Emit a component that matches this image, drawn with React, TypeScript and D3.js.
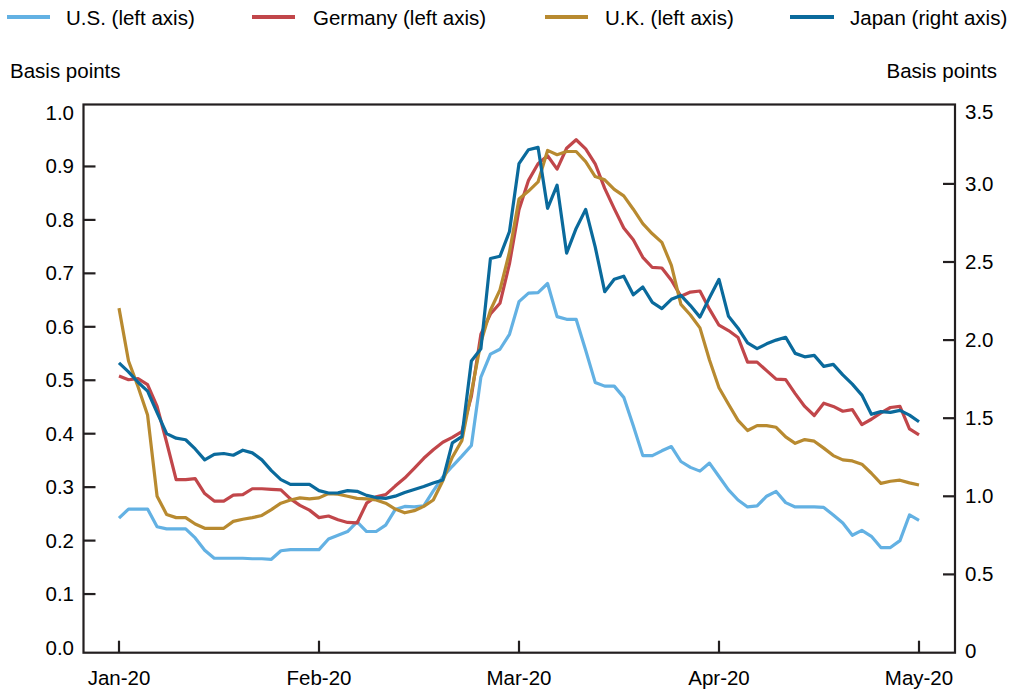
import React from "react";
import * as d3 from "d3";

const TICK_LABELS = ["Jan-20", "Feb-20", "Mar-20", "Apr-20", "May-20"];
const TICK_INDEX = [0, 21, 42, 63, 84];
const LEFT_TICKS = [0.1, 0.2, 0.3, 0.4, 0.5, 0.6, 0.7, 0.8, 0.9];
const LEFT_LABELS = [0, 0.1, 0.2, 0.3, 0.4, 0.5, 0.6, 0.7, 0.8, 0.9, 1.0];
const RIGHT_TICKS = [0.5, 1.0, 1.5, 2.0, 2.5, 3.0];
const RIGHT_LABELS = [0, 0.5, 1.0, 1.5, 2.0, 2.5, 3.0, 3.5];

const US = [
  0.242, 0.259, 0.259, 0.259, 0.226, 0.222, 0.222, 0.222, 0.205, 0.182,
  0.167, 0.167, 0.167, 0.167, 0.166, 0.166, 0.165, 0.181, 0.183, 0.183,
  0.183, 0.183, 0.203, 0.21, 0.217, 0.235, 0.217, 0.217, 0.229, 0.258,
  0.264, 0.263, 0.265, 0.293, 0.319, 0.339, 0.358, 0.378, 0.506, 0.549,
  0.558, 0.586, 0.647, 0.663, 0.664, 0.681, 0.619, 0.614, 0.614, 0.556,
  0.496, 0.489, 0.489, 0.468, 0.415, 0.359, 0.359, 0.368, 0.376, 0.348,
  0.337, 0.33, 0.345, 0.32, 0.295, 0.276, 0.263, 0.265, 0.283, 0.292,
  0.271, 0.263, 0.263, 0.263, 0.262, 0.248, 0.233, 0.21, 0.219, 0.208,
  0.187, 0.187, 0.2, 0.248, 0.238,
];

const GERMANY = [
  0.508, 0.501, 0.503, 0.492, 0.451, 0.384, 0.314, 0.314, 0.316, 0.288,
  0.274, 0.274, 0.285, 0.286, 0.297, 0.297, 0.296, 0.295, 0.278, 0.266,
  0.257, 0.243, 0.246, 0.239, 0.234, 0.233, 0.27, 0.282, 0.286, 0.302,
  0.317, 0.335, 0.354, 0.37, 0.384, 0.393, 0.404, 0.47, 0.586, 0.624,
  0.644, 0.718, 0.819, 0.874, 0.905, 0.92, 0.895, 0.934, 0.95, 0.933,
  0.905, 0.859, 0.821, 0.785, 0.763, 0.73, 0.711, 0.71, 0.687, 0.657,
  0.665, 0.667, 0.633, 0.603, 0.593, 0.58, 0.534, 0.534, 0.518, 0.502,
  0.501, 0.475, 0.451, 0.434, 0.457, 0.451, 0.442, 0.445, 0.417, 0.427,
  0.439, 0.449, 0.451, 0.409, 0.398,
];

const UK = [
  0.635, 0.536, 0.488, 0.435, 0.283, 0.249, 0.243, 0.243, 0.231, 0.223,
  0.223, 0.223, 0.236, 0.24, 0.243, 0.247, 0.258, 0.27, 0.276, 0.28,
  0.278, 0.28, 0.288, 0.287, 0.283, 0.279, 0.278, 0.276, 0.27, 0.259,
  0.252, 0.256, 0.264, 0.276, 0.312, 0.356, 0.387, 0.477, 0.571, 0.631,
  0.669, 0.74, 0.839, 0.854, 0.871, 0.93, 0.922, 0.928, 0.928, 0.909,
  0.881, 0.875, 0.857, 0.845, 0.82, 0.793, 0.774, 0.758, 0.715, 0.642,
  0.622, 0.598, 0.538, 0.486, 0.455, 0.425, 0.406, 0.415, 0.415, 0.412,
  0.394, 0.382, 0.389, 0.386, 0.373, 0.359, 0.351, 0.349, 0.343, 0.326,
  0.307, 0.311, 0.313, 0.308, 0.304,
];

const JAPAN = [
  1.854, 1.797, 1.73, 1.673, 1.536, 1.401, 1.372, 1.362, 1.303, 1.233,
  1.268, 1.274, 1.263, 1.295, 1.278, 1.233, 1.164, 1.107, 1.076, 1.076,
  1.076, 1.036, 1.021, 1.022, 1.036, 1.032, 1.006, 0.992, 0.987, 1.001,
  1.024, 1.044, 1.063, 1.085, 1.105, 1.342, 1.382, 1.866, 1.945, 2.522,
  2.537, 2.695, 3.13, 3.219, 3.234, 2.844, 2.992, 2.557, 2.715, 2.837,
  2.597, 2.31, 2.389, 2.409, 2.29, 2.34, 2.241, 2.202, 2.261, 2.286,
  2.221, 2.147, 2.271, 2.389, 2.152, 2.076, 1.982, 1.945, 1.976, 2.0,
  2.018, 1.915, 1.893, 1.902, 1.832, 1.845, 1.777, 1.718, 1.648, 1.525,
  1.542, 1.537, 1.55, 1.52, 1.477,
];

const SERIES = [
  { name: "U.S. (left axis)", values: US, color: "#63B1E3", axis: "left" },
  { name: "Germany (left axis)", values: GERMANY, color: "#C1464A", axis: "left" },
  { name: "U.K. (left axis)", values: UK, color: "#B88A30", axis: "left" },
  { name: "Japan (right axis)", values: JAPAN, color: "#0A6A9C", axis: "right" },
];

const W = 1022;
const H = 691;
const BOX = { left: 83.5, right: 955, top: 104.5, bottom: 652.7 };
const FONT = "'Liberation Sans', Arial, Helvetica, sans-serif";
const FS = 20.5;
const AXIS_COLOR = "#231F20";
const TICK_LEN = 12;

export default function App() {
  const x = d3.scaleLinear().domain([0, 84]).range([119, 919]);
  const yL = d3.scaleLinear().domain([0, 1]).range([647.5, 113]);
  const yR = d3.scaleLinear().domain([0, 3.5]).range([652.5, 105.8]);

  const legendX = [[7, 50, 66], [252, 295, 313], [545, 588, 605], [790, 834, 850]];

  return (
    <svg
      width={W}
      height={H}
      style={{ position: "absolute", left: 0, top: 0, background: "#fff" }}
      fontFamily={FONT}
    >
      <rect x={0} y={0} width={W} height={H} fill="#fff" />
      {SERIES.map((s, k) => (
        <g key={s.name}>
          <line
            x1={legendX[k][0]}
            x2={legendX[k][1]}
            y1={17}
            y2={17}
            stroke={s.color}
            strokeWidth={4}
          />
          <text x={legendX[k][2]} y={24.5} fontSize={FS} fill="#000">
            {s.name}
          </text>
        </g>
      ))}
      <text x={10} y={78} fontSize={FS} fill="#000">
        Basis points
      </text>
      <text x={997} y={78} fontSize={FS} fill="#000" textAnchor="end">
        Basis points
      </text>

      {SERIES.map((s) => {
        const yy = s.axis === "left" ? yL : yR;
        const line = d3
          .line<number>()
          .x((_, i) => x(i))
          .y((v) => yy(v));
        return (
          <path
            key={s.name}
            d={line(s.values) || ""}
            fill="none"
            stroke={s.color}
            strokeWidth={3.2}
            strokeLinejoin="round"
          />
        );
      })}

      <rect
        x={BOX.left}
        y={BOX.top}
        width={BOX.right - BOX.left}
        height={BOX.bottom - BOX.top}
        fill="none"
        stroke={AXIS_COLOR}
        strokeWidth={2.2}
      />

      {LEFT_TICKS.map((t) => (
        <line
          key={"lt" + t}
          x1={BOX.left}
          x2={BOX.left + TICK_LEN}
          y1={yL(t)}
          y2={yL(t)}
          stroke={AXIS_COLOR}
          strokeWidth={2.2}
        />
      ))}
      {LEFT_LABELS.map((t) => (
        <text
          key={"ll" + t}
          x={74}
          y={yL(t) + 7}
          fontSize={FS}
          textAnchor="end"
          fill="#000"
        >
          {t.toFixed(1)}
        </text>
      ))}

      {RIGHT_TICKS.map((t) => (
        <line
          key={"rt" + t}
          x1={BOX.right - TICK_LEN}
          x2={BOX.right}
          y1={yR(t)}
          y2={yR(t)}
          stroke={AXIS_COLOR}
          strokeWidth={2.2}
        />
      ))}
      {RIGHT_LABELS.map((t) => (
        <text
          key={"rl" + t}
          x={965}
          y={yR(t) + 7 + (t === 0 ? -2 : t === 3.5 ? 6 : 0)}
          fontSize={FS}
          textAnchor="start"
          fill="#000"
        >
          {t === 0 ? "0" : t.toFixed(1)}
        </text>
      ))}

      {TICK_INDEX.map((ti, k) => (
        <g key={"bt" + ti}>
          <line
            x1={x(ti)}
            x2={x(ti)}
            y1={BOX.bottom}
            y2={BOX.bottom - TICK_LEN}
            stroke={AXIS_COLOR}
            strokeWidth={2.2}
          />
          <text x={x(ti)} y={685} fontSize={FS} textAnchor="middle" fill="#000">
            {TICK_LABELS[k]}
          </text>
        </g>
      ))}
    </svg>
  );
}
